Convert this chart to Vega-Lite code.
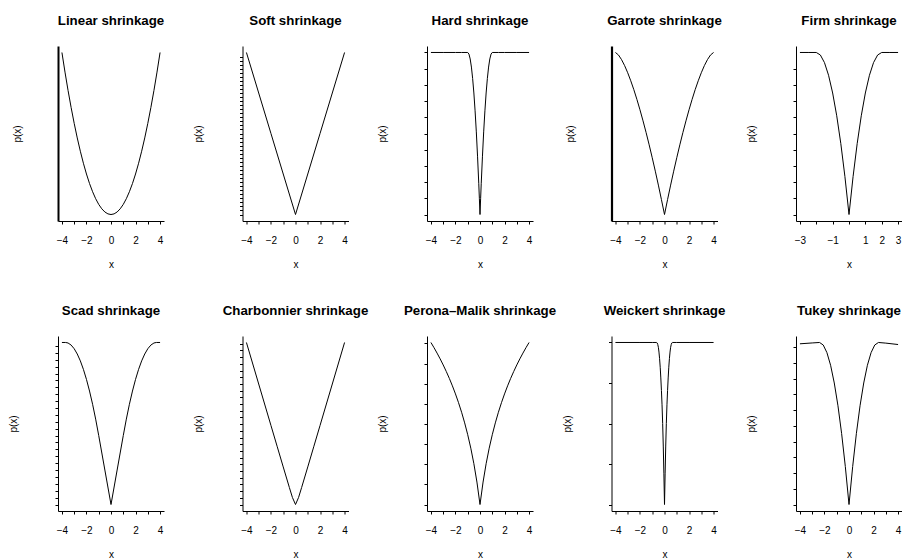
{
"$schema": "https://vega.github.io/schema/vega-lite/v6.json",
"background": "white",
"padding": {"left": 8, "top": 13, "right": 0, "bottom": 0},
"config": {
  "view": {"stroke": null},
  "font": "Liberation Sans",
  "axis": {"grid": false, "domainColor": "black", "tickColor": "black", "labelColor": "black", "titleColor": "black", "tickSize": 3, "labelFont": "Liberation Sans", "labelFontSize": 10, "titleFont": "Liberation Sans", "titleFontSize": 10, "titleFontWeight": "normal", "domainWidth": 1, "tickWidth": 1, "labelOverlap": false},
  "axisX": {"labelPadding": 11, "titlePadding": 14, "labelAngle": 0, "labelFlush": false},
  "axisY": {"labels": false, "titlePadding": 36},
  "title": {"fontSize": 13.3, "fontWeight": "bold", "font": "Liberation Sans", "anchor": "middle", "baseline": "alphabetic", "offset": 19, "color": "black"},
  "line": {"color": "black", "strokeWidth": 1}
},
"data": {"values": [
{"f":"Linear","x":-4,"y":16},{"f":"Linear","x":-3.75,"y":14.0625},{"f":"Linear","x":-3.5,"y":12.25},{"f":"Linear","x":-3.25,"y":10.5625},{"f":"Linear","x":-3,"y":9},{"f":"Linear","x":-2.75,"y":7.5625},{"f":"Linear","x":-2.5,"y":6.25},{"f":"Linear","x":-2.25,"y":5.0625},{"f":"Linear","x":-2,"y":4},{"f":"Linear","x":-1.75,"y":3.0625},{"f":"Linear","x":-1.5,"y":2.25},{"f":"Linear","x":-1.25,"y":1.5625},{"f":"Linear","x":-1,"y":1},{"f":"Linear","x":-0.75,"y":0.5625},{"f":"Linear","x":-0.5,"y":0.25},{"f":"Linear","x":-0.25,"y":0.0625},{"f":"Linear","x":0,"y":0},{"f":"Linear","x":0.25,"y":0.0625},{"f":"Linear","x":0.5,"y":0.25},{"f":"Linear","x":0.75,"y":0.5625},{"f":"Linear","x":1,"y":1},{"f":"Linear","x":1.25,"y":1.5625},{"f":"Linear","x":1.5,"y":2.25},{"f":"Linear","x":1.75,"y":3.0625},{"f":"Linear","x":2,"y":4},{"f":"Linear","x":2.25,"y":5.0625},{"f":"Linear","x":2.5,"y":6.25},{"f":"Linear","x":2.75,"y":7.5625},{"f":"Linear","x":3,"y":9},{"f":"Linear","x":3.25,"y":10.5625},{"f":"Linear","x":3.5,"y":12.25},{"f":"Linear","x":3.75,"y":14.0625},{"f":"Linear","x":4,"y":16},
{"f":"Soft","x":-4,"y":4},{"f":"Soft","x":-2,"y":2},{"f":"Soft","x":0,"y":0},{"f":"Soft","x":2,"y":2},{"f":"Soft","x":4,"y":4},
{"f":"Hard","x":-4,"y":1},{"f":"Hard","x":-3,"y":1},{"f":"Hard","x":-2,"y":1},{"f":"Hard","x":-1.5,"y":1},{"f":"Hard","x":-1,"y":1},{"f":"Hard","x":-0.9,"y":0.99},{"f":"Hard","x":-0.8,"y":0.96},{"f":"Hard","x":-0.7,"y":0.91},{"f":"Hard","x":-0.6,"y":0.84},{"f":"Hard","x":-0.5,"y":0.75},{"f":"Hard","x":-0.4,"y":0.64},{"f":"Hard","x":-0.3,"y":0.51},{"f":"Hard","x":-0.2,"y":0.36},{"f":"Hard","x":-0.1,"y":0.19},{"f":"Hard","x":-0.05,"y":0.0975},{"f":"Hard","x":0,"y":0},{"f":"Hard","x":0.05,"y":0.0975},{"f":"Hard","x":0.1,"y":0.19},{"f":"Hard","x":0.2,"y":0.36},{"f":"Hard","x":0.3,"y":0.51},{"f":"Hard","x":0.4,"y":0.64},{"f":"Hard","x":0.5,"y":0.75},{"f":"Hard","x":0.6,"y":0.84},{"f":"Hard","x":0.7,"y":0.91},{"f":"Hard","x":0.8,"y":0.96},{"f":"Hard","x":0.9,"y":0.99},{"f":"Hard","x":1,"y":1},{"f":"Hard","x":1.5,"y":1},{"f":"Hard","x":2,"y":1},{"f":"Hard","x":3,"y":1},{"f":"Hard","x":4,"y":1},
{"f":"Garrote","x":-4,"y":1},{"f":"Garrote","x":-3.75,"y":0.9844},{"f":"Garrote","x":-3.5,"y":0.9558},{"f":"Garrote","x":-3.25,"y":0.9188},{"f":"Garrote","x":-3,"y":0.875},{"f":"Garrote","x":-2.75,"y":0.8253},{"f":"Garrote","x":-2.5,"y":0.7704},{"f":"Garrote","x":-2.25,"y":0.7106},{"f":"Garrote","x":-2,"y":0.6464},{"f":"Garrote","x":-1.75,"y":0.5781},{"f":"Garrote","x":-1.5,"y":0.5059},{"f":"Garrote","x":-1.25,"y":0.43},{"f":"Garrote","x":-1,"y":0.3505},{"f":"Garrote","x":-0.75,"y":0.2676},{"f":"Garrote","x":-0.5,"y":0.1815},{"f":"Garrote","x":-0.25,"y":0.0923},{"f":"Garrote","x":0,"y":0},{"f":"Garrote","x":0.25,"y":0.0923},{"f":"Garrote","x":0.5,"y":0.1815},{"f":"Garrote","x":0.75,"y":0.2676},{"f":"Garrote","x":1,"y":0.3505},{"f":"Garrote","x":1.25,"y":0.43},{"f":"Garrote","x":1.5,"y":0.5059},{"f":"Garrote","x":1.75,"y":0.5781},{"f":"Garrote","x":2,"y":0.6464},{"f":"Garrote","x":2.25,"y":0.7106},{"f":"Garrote","x":2.5,"y":0.7704},{"f":"Garrote","x":2.75,"y":0.8253},{"f":"Garrote","x":3,"y":0.875},{"f":"Garrote","x":3.25,"y":0.9188},{"f":"Garrote","x":3.5,"y":0.9558},{"f":"Garrote","x":3.75,"y":0.9844},{"f":"Garrote","x":4,"y":1},
{"f":"Firm","x":-3,"y":1},{"f":"Firm","x":-2.5,"y":1},{"f":"Firm","x":-2,"y":1},{"f":"Firm","x":-1.75,"y":0.9844},{"f":"Firm","x":-1.5,"y":0.9375},{"f":"Firm","x":-1.25,"y":0.8594},{"f":"Firm","x":-1,"y":0.75},{"f":"Firm","x":-0.75,"y":0.6094},{"f":"Firm","x":-0.5,"y":0.4375},{"f":"Firm","x":-0.25,"y":0.2344},{"f":"Firm","x":0,"y":0},{"f":"Firm","x":0.25,"y":0.2344},{"f":"Firm","x":0.5,"y":0.4375},{"f":"Firm","x":0.75,"y":0.6094},{"f":"Firm","x":1,"y":0.75},{"f":"Firm","x":1.25,"y":0.8594},{"f":"Firm","x":1.5,"y":0.9375},{"f":"Firm","x":1.75,"y":0.9844},{"f":"Firm","x":2,"y":1},{"f":"Firm","x":2.5,"y":1},{"f":"Firm","x":3,"y":1},
{"f":"Scad","x":-4,"y":2.35},{"f":"Scad","x":-3.7,"y":2.35},{"f":"Scad","x":-3.5,"y":2.3426},{"f":"Scad","x":-3.25,"y":2.3125},{"f":"Scad","x":-3,"y":2.2593},{"f":"Scad","x":-2.75,"y":2.1829},{"f":"Scad","x":-2.5,"y":2.0833},{"f":"Scad","x":-2.25,"y":1.9606},{"f":"Scad","x":-2,"y":1.8148},{"f":"Scad","x":-1.75,"y":1.6458},{"f":"Scad","x":-1.5,"y":1.4537},{"f":"Scad","x":-1.25,"y":1.2384},{"f":"Scad","x":-1,"y":1},{"f":"Scad","x":-0.5,"y":0.5},{"f":"Scad","x":0,"y":0},{"f":"Scad","x":0.5,"y":0.5},{"f":"Scad","x":1,"y":1},{"f":"Scad","x":1.25,"y":1.2384},{"f":"Scad","x":1.5,"y":1.4537},{"f":"Scad","x":1.75,"y":1.6458},{"f":"Scad","x":2,"y":1.8148},{"f":"Scad","x":2.25,"y":1.9606},{"f":"Scad","x":2.5,"y":2.0833},{"f":"Scad","x":2.75,"y":2.1829},{"f":"Scad","x":3,"y":2.2593},{"f":"Scad","x":3.25,"y":2.3125},{"f":"Scad","x":3.5,"y":2.3426},{"f":"Scad","x":3.7,"y":2.35},{"f":"Scad","x":4,"y":2.35},
{"f":"Charbonnier","x":-4,"y":2.4188},{"f":"Charbonnier","x":-3,"y":1.799},{"f":"Charbonnier","x":-2,"y":1.1796},{"f":"Charbonnier","x":-1.5,"y":0.8701},{"f":"Charbonnier","x":-1,"y":0.5611},{"f":"Charbonnier","x":-0.5,"y":0.2541},{"f":"Charbonnier","x":-0.25,"y":0.105},{"f":"Charbonnier","x":0,"y":0},{"f":"Charbonnier","x":0.25,"y":0.105},{"f":"Charbonnier","x":0.5,"y":0.2541},{"f":"Charbonnier","x":1,"y":0.5611},{"f":"Charbonnier","x":1.5,"y":0.8701},{"f":"Charbonnier","x":2,"y":1.1796},{"f":"Charbonnier","x":3,"y":1.799},{"f":"Charbonnier","x":4,"y":2.4188},
{"f":"Perona","x":-4,"y":1.6094},{"f":"Perona","x":-3.75,"y":1.5581},{"f":"Perona","x":-3.5,"y":1.5041},{"f":"Perona","x":-3.25,"y":1.4469},{"f":"Perona","x":-3,"y":1.3863},{"f":"Perona","x":-2.75,"y":1.3218},{"f":"Perona","x":-2.5,"y":1.2528},{"f":"Perona","x":-2.25,"y":1.1787},{"f":"Perona","x":-2,"y":1.0986},{"f":"Perona","x":-1.75,"y":1.0116},{"f":"Perona","x":-1.5,"y":0.9163},{"f":"Perona","x":-1.25,"y":0.8109},{"f":"Perona","x":-1,"y":0.6931},{"f":"Perona","x":-0.75,"y":0.5596},{"f":"Perona","x":-0.5,"y":0.4055},{"f":"Perona","x":-0.25,"y":0.2231},{"f":"Perona","x":0,"y":0},{"f":"Perona","x":0.25,"y":0.2231},{"f":"Perona","x":0.5,"y":0.4055},{"f":"Perona","x":0.75,"y":0.5596},{"f":"Perona","x":1,"y":0.6931},{"f":"Perona","x":1.25,"y":0.8109},{"f":"Perona","x":1.5,"y":0.9163},{"f":"Perona","x":1.75,"y":1.0116},{"f":"Perona","x":2,"y":1.0986},{"f":"Perona","x":2.25,"y":1.1787},{"f":"Perona","x":2.5,"y":1.2528},{"f":"Perona","x":2.75,"y":1.3218},{"f":"Perona","x":3,"y":1.3863},{"f":"Perona","x":3.25,"y":1.4469},{"f":"Perona","x":3.5,"y":1.5041},{"f":"Perona","x":3.75,"y":1.5581},{"f":"Perona","x":4,"y":1.6094},
{"f":"Weickert","x":-4,"y":1},{"f":"Weickert","x":-2,"y":1},{"f":"Weickert","x":-1,"y":1},{"f":"Weickert","x":-0.65,"y":1},{"f":"Weickert","x":-0.6,"y":0.9975},{"f":"Weickert","x":-0.55,"y":0.9877},{"f":"Weickert","x":-0.5,"y":0.9704},{"f":"Weickert","x":-0.45,"y":0.9408},{"f":"Weickert","x":-0.4,"y":0.9},{"f":"Weickert","x":-0.35,"y":0.8471},{"f":"Weickert","x":-0.3,"y":0.7811},{"f":"Weickert","x":-0.25,"y":0.7041},{"f":"Weickert","x":-0.2,"y":0.6154},{"f":"Weickert","x":-0.15,"y":0.5},{"f":"Weickert","x":-0.1,"y":0.3609},{"f":"Weickert","x":-0.05,"y":0.1893},{"f":"Weickert","x":0,"y":0},{"f":"Weickert","x":0.05,"y":0.1893},{"f":"Weickert","x":0.1,"y":0.3609},{"f":"Weickert","x":0.15,"y":0.5},{"f":"Weickert","x":0.2,"y":0.6154},{"f":"Weickert","x":0.25,"y":0.7041},{"f":"Weickert","x":0.3,"y":0.7811},{"f":"Weickert","x":0.35,"y":0.8471},{"f":"Weickert","x":0.4,"y":0.9},{"f":"Weickert","x":0.45,"y":0.9408},{"f":"Weickert","x":0.5,"y":0.9704},{"f":"Weickert","x":0.55,"y":0.9877},{"f":"Weickert","x":0.6,"y":0.9975},{"f":"Weickert","x":0.65,"y":1},{"f":"Weickert","x":1,"y":1},{"f":"Weickert","x":2,"y":1},{"f":"Weickert","x":4,"y":1},
{"f":"Tukey","x":-4,"y":1.0216},{"f":"Tukey","x":-3,"y":1.027},{"f":"Tukey","x":-2.4,"y":1.03},{"f":"Tukey","x":-2.1,"y":1.0139},{"f":"Tukey","x":-1.8,"y":0.9656},{"f":"Tukey","x":-1.5,"y":0.8852},{"f":"Tukey","x":-1.2,"y":0.7725},{"f":"Tukey","x":-0.9,"y":0.6277},{"f":"Tukey","x":-0.6,"y":0.4506},{"f":"Tukey","x":-0.3,"y":0.2414},{"f":"Tukey","x":0,"y":0},{"f":"Tukey","x":0.3,"y":0.2414},{"f":"Tukey","x":0.6,"y":0.4506},{"f":"Tukey","x":0.9,"y":0.6277},{"f":"Tukey","x":1.2,"y":0.7725},{"f":"Tukey","x":1.5,"y":0.8852},{"f":"Tukey","x":1.8,"y":0.9656},{"f":"Tukey","x":2.1,"y":1.0139},{"f":"Tukey","x":2.4,"y":1.03},{"f":"Tukey","x":3,"y":1.026},{"f":"Tukey","x":4,"y":1.017}
]},
"columns": 5,
"bounds": "flush",
"spacing": {"row": 115, "column": 78.5},
"concat": [
{"title":"Linear shrinkage","width":106,"height":175,"transform":[{"filter":"datum.f==='Linear'"}],"mark":"line",
 "encoding":{"x":{"field":"x","type":"quantitative","scale":{"domain":[-4.32,4.32],"nice":false,"zero":false},"axis":{"values":[-4,-3,-2,-1,0,1,2,3,4],"labelExpr":"datum.value%2===0?datum.label:''","title":"x"}},
 "y":{"field":"y","type":"quantitative","scale":{"domain":[-0.64,16.64],"nice":false,"zero":false},"axis":{"ticks":false,"domainWidth":2,"title":"p(x)"}}}},
{"title":"Soft shrinkage","width":106,"height":175,"transform":[{"filter":"datum.f==='Soft'"}],"mark":"line",
 "encoding":{"x":{"field":"x","type":"quantitative","scale":{"domain":[-4.32,4.32],"nice":false,"zero":false},"axis":{"values":[-4,-3,-2,-1,0,1,2,3,4],"labelExpr":"datum.value%2===0?datum.label:''","title":"x"}},
 "y":{"field":"y","type":"quantitative","scale":{"domain":[-0.16,4.16],"nice":false,"zero":false},"axis":{"values":[0,0.1,0.2,0.3,0.4,0.5,0.6,0.7,0.8,0.9,1,1.1,1.2,1.3,1.4,1.5,1.6,1.7,1.8,1.9,2,2.1,2.2,2.3,2.4,2.5,2.6,2.7,2.8,2.9,3,3.1,3.2,3.3,3.4,3.5,3.6,3.7,3.8,3.9],"title":"p(x)"}}}},
{"title":"Hard shrinkage","width":106,"height":175,"transform":[{"filter":"datum.f==='Hard'"}],"mark":"line",
 "encoding":{"x":{"field":"x","type":"quantitative","scale":{"domain":[-4.32,4.32],"nice":false,"zero":false},"axis":{"values":[-4,-3,-2,-1,0,1,2,3,4],"labelExpr":"datum.value%2===0?datum.label:''","title":"x"}},
 "y":{"field":"y","type":"quantitative","scale":{"domain":[-0.04,1.04],"nice":false,"zero":false},"axis":{"values":[0,0.1,0.2,0.3,0.4,0.5,0.6,0.7,0.8,0.9,1],"title":"p(x)"}}}},
{"title":"Garrote shrinkage","width":106,"height":175,"transform":[{"filter":"datum.f==='Garrote'"}],"mark":"line",
 "encoding":{"x":{"field":"x","type":"quantitative","scale":{"domain":[-4.32,4.32],"nice":false,"zero":false},"axis":{"values":[-4,-3,-2,-1,0,1,2,3,4],"labelExpr":"datum.value%2===0?datum.label:''","title":"x"}},
 "y":{"field":"y","type":"quantitative","scale":{"domain":[-0.04,1.04],"nice":false,"zero":false},"axis":{"ticks":false,"domainWidth":2.2,"title":"p(x)"}}}},
{"title":"Firm shrinkage","width":106,"height":175,"transform":[{"filter":"datum.f==='Firm'"}],"mark":"line",
 "encoding":{"x":{"field":"x","type":"quantitative","scale":{"domain":[-3.24,3.24],"nice":false,"zero":false},"axis":{"values":[-3,-2,-1,0,1,2,3],"labelExpr":"indexof([-3,-1,1,2,3],datum.value)>=0?datum.label:''","title":"x"}},
 "y":{"field":"y","type":"quantitative","scale":{"domain":[-0.04,1.04],"nice":false,"zero":false},"axis":{"values":[0,0.1,0.2,0.3,0.4,0.5,0.6,0.7,0.8,0.9],"title":"p(x)"}}}},
{"title":"Scad shrinkage","width":106,"height":175,"transform":[{"filter":"datum.f==='Scad'"}],"mark":"line",
 "encoding":{"x":{"field":"x","type":"quantitative","scale":{"domain":[-4.32,4.32],"nice":false,"zero":false},"axis":{"values":[-4,-3,-2,-1,0,1,2,3,4],"labelExpr":"datum.value%2===0?datum.label:''","title":"x"}},
 "y":{"field":"y","type":"quantitative","scale":{"domain":[-0.094,2.444],"nice":false,"zero":false},"axis":{"values":[0,0.1,0.2,0.3,0.4,0.5,0.6,0.7,0.8,0.9,1,1.1,1.2,1.3,1.4,1.5,1.6,1.7,1.8,1.9,2,2.1,2.2,2.3],"title":"p(x)"}}}},
{"title":"Charbonnier shrinkage","width":106,"height":175,"transform":[{"filter":"datum.f==='Charbonnier'"}],"mark":"line",
 "encoding":{"x":{"field":"x","type":"quantitative","scale":{"domain":[-4.32,4.32],"nice":false,"zero":false},"axis":{"values":[-4,-3,-2,-1,0,1,2,3,4],"labelExpr":"datum.value%2===0?datum.label:''","title":"x"}},
 "y":{"field":"y","type":"quantitative","scale":{"domain":[-0.0968,2.5156],"nice":false,"zero":false},"axis":{"values":[0,0.1,0.2,0.3,0.4,0.5,0.6,0.7,0.8,0.9,1,1.1,1.2,1.3,1.4,1.5,1.6,1.7,1.8,1.9,2,2.1,2.2,2.3,2.4],"title":"p(x)"}}}},
{"title":"Perona–Malik shrinkage","width":106,"height":175,"transform":[{"filter":"datum.f==='Perona'"}],"mark":"line",
 "encoding":{"x":{"field":"x","type":"quantitative","scale":{"domain":[-4.32,4.32],"nice":false,"zero":false},"axis":{"values":[-4,-3,-2,-1,0,1,2,3,4],"labelExpr":"datum.value%2===0?datum.label:''","title":"x"}},
 "y":{"field":"y","type":"quantitative","scale":{"domain":[-0.0644,1.6738],"nice":false,"zero":false},"axis":{"values":[0,0.2,0.4,0.6,0.8,1,1.2,1.4,1.6],"title":"p(x)"}}}},
{"title":"Weickert shrinkage","width":106,"height":175,"transform":[{"filter":"datum.f==='Weickert'"}],"mark":"line",
 "encoding":{"x":{"field":"x","type":"quantitative","scale":{"domain":[-4.32,4.32],"nice":false,"zero":false},"axis":{"values":[-4,-3,-2,-1,0,1,2,3,4],"labelExpr":"datum.value%2===0?datum.label:''","title":"x"}},
 "y":{"field":"y","type":"quantitative","scale":{"domain":[-0.04,1.04],"nice":false,"zero":false},"axis":{"values":[0,0.25,0.5,0.75,1],"title":"p(x)"}}}},
{"title":"Tukey shrinkage","width":106,"height":175,"transform":[{"filter":"datum.f==='Tukey'"}],"mark":"line",
 "encoding":{"x":{"field":"x","type":"quantitative","scale":{"domain":[-4.32,4.32],"nice":false,"zero":false},"axis":{"values":[-4,-3,-2,-1,0,1,2,3,4],"labelExpr":"datum.value%2===0?datum.label:''","title":"x"}},
 "y":{"field":"y","type":"quantitative","scale":{"domain":[-0.0412,1.0712],"nice":false,"zero":false},"axis":{"values":[0,0.1,0.2,0.3,0.4,0.5,0.6,0.7,0.8,0.9,1],"title":"p(x)"}}}}
]
}
